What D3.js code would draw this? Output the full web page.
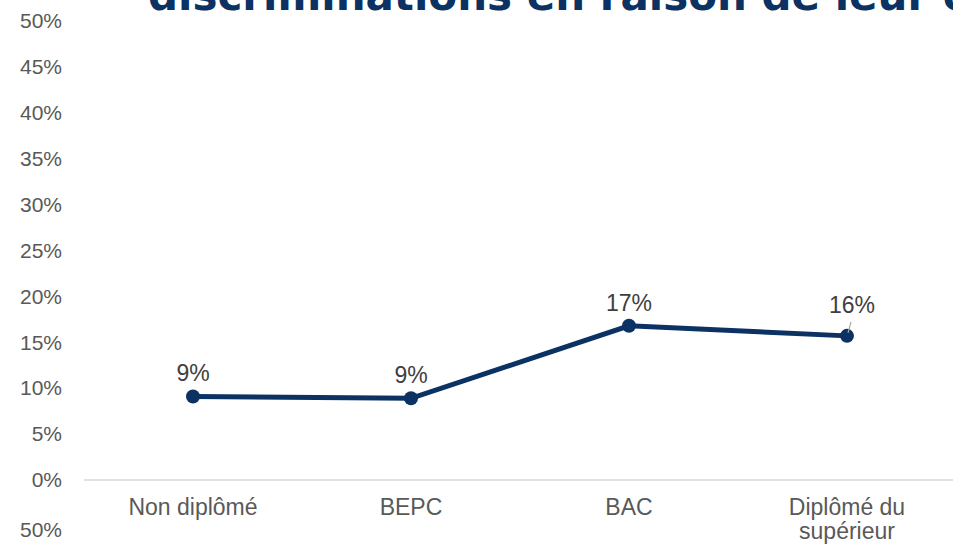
<!DOCTYPE html>
<html lang="fr">
<head>
<meta charset="UTF-8">
<title>Discriminations</title>
<script src="https://cdn.jsdelivr.net/npm/d3@7/dist/d3.min.js"></script>
<style>
  body { margin: 0; background: #fff; }
  svg { display: block; font-family: "Liberation Sans", Arial, sans-serif; }
</style>
</head>
<body>
<div id="chart"></div>
<script>
  const categories = ["Non diplômé", "BEPC", "BAC", "Diplômé du supérieur"];
  const values = [9.1, 8.9, 16.8, 15.7];
  const valueLabels = ["9%", "9%", "17%", "16%"];
  const yTicks = [0, 5, 10, 15, 20, 25, 30, 35, 40, 45, 50];
  const titleText = "discriminations en raison de leur origine";

  const W = 953, H = 545;
  const plot = {left: 84, right: 956, top: 21, bottom: 480};

  const svg = d3.select("#chart").append("svg")
    .attr("width", W)
    .attr("height", H);

  const x = d3.scaleBand()
    .domain(categories)
    .range([plot.left, plot.right]);

  const y = d3.scaleLinear()
    .domain([0, 50])
    .range([plot.bottom, plot.top]);

  // title, cut off at the top like in the source
  svg.append("text")
    .attr("x", 148)
    .attr("y", 10)
    .attr("fill", "#0b3263")
    .attr("font-family", "'DejaVu Sans', Verdana, sans-serif")
    .attr("font-weight", "bold")
    .attr("font-size", 42)
    .text(titleText);

  // y axis labels
  const yAxis = svg.append("g")
    .attr("transform", "translate(" + (plot.left - 22) + ",0)")
    .call(d3.axisLeft(y).tickValues(yTicks).tickSize(0).tickPadding(0).tickFormat(d => d + "%"));
  yAxis.select(".domain").remove();
  yAxis.selectAll("text")
    .attr("font-family", "'Liberation Sans', Arial, sans-serif")
    .attr("font-size", 21)
    .attr("fill", "#595959");

  // stray label under the axis
  svg.append("text")
    .attr("x", plot.left - 22)
    .attr("y", 537)
    .attr("text-anchor", "end")
    .attr("font-size", 21)
    .attr("fill", "#595959")
    .text("50%");

  // x axis line
  svg.append("line")
    .attr("x1", plot.left)
    .attr("x2", W)
    .attr("y1", y(0))
    .attr("y2", y(0))
    .attr("stroke", "#d9d9d9")
    .attr("stroke-width", 1.5);

  // category labels
  const cx = d => x(d) + x.bandwidth() / 2;
  svg.append("g").selectAll("text")
    .data(categories)
    .join("text")
    .attr("x", d => cx(d))
    .attr("y", 515)
    .attr("text-anchor", "middle")
    .attr("font-size", 23)
    .attr("fill", "#595959")
    .each(function(d) {
      const parts = d === "Diplômé du supérieur" ? ["Diplômé du", "supérieur"] : [d];
      d3.select(this).selectAll("tspan")
        .data(parts)
        .join("tspan")
        .attr("x", cx(d))
        .attr("dy", (p, i) => i === 0 ? 0 : 24)
        .text(p => p);
    });

  const data = categories.map((c, i) => ({cat: c, value: values[i], label: valueLabels[i]}));

  const line = d3.line()
    .x(d => cx(d.cat))
    .y(d => y(d.value));

  svg.append("path")
    .datum(data)
    .attr("fill", "none")
    .attr("stroke", "#0b3263")
    .attr("stroke-width", 5)
    .attr("d", line);

  svg.append("g").selectAll("circle")
    .data(data)
    .join("circle")
    .attr("cx", d => cx(d.cat))
    .attr("cy", d => y(d.value))
    .attr("r", 7)
    .attr("fill", "#0b3263");

  // leader line for the last label
  const last = data[3];
  svg.append("line")
    .attr("x1", cx(last.cat) + 4)
    .attr("y1", y(last.value) - 14)
    .attr("x2", cx(last.cat) + 1)
    .attr("y2", y(last.value) - 3)
    .attr("stroke", "#a6a6a6")
    .attr("stroke-width", 1.2);

  svg.append("g").selectAll("text")
    .data(data)
    .join("text")
    .attr("x", d => cx(d.cat) + (d.cat === last.cat ? 5 : 0))
    .attr("y", d => y(d.value) - (d.cat === last.cat ? 23 : 15))
    .attr("text-anchor", "middle")
    .attr("font-size", 23)
    .attr("fill", "#404040")
    .text(d => d.label);
</script>
</body>
</html>
